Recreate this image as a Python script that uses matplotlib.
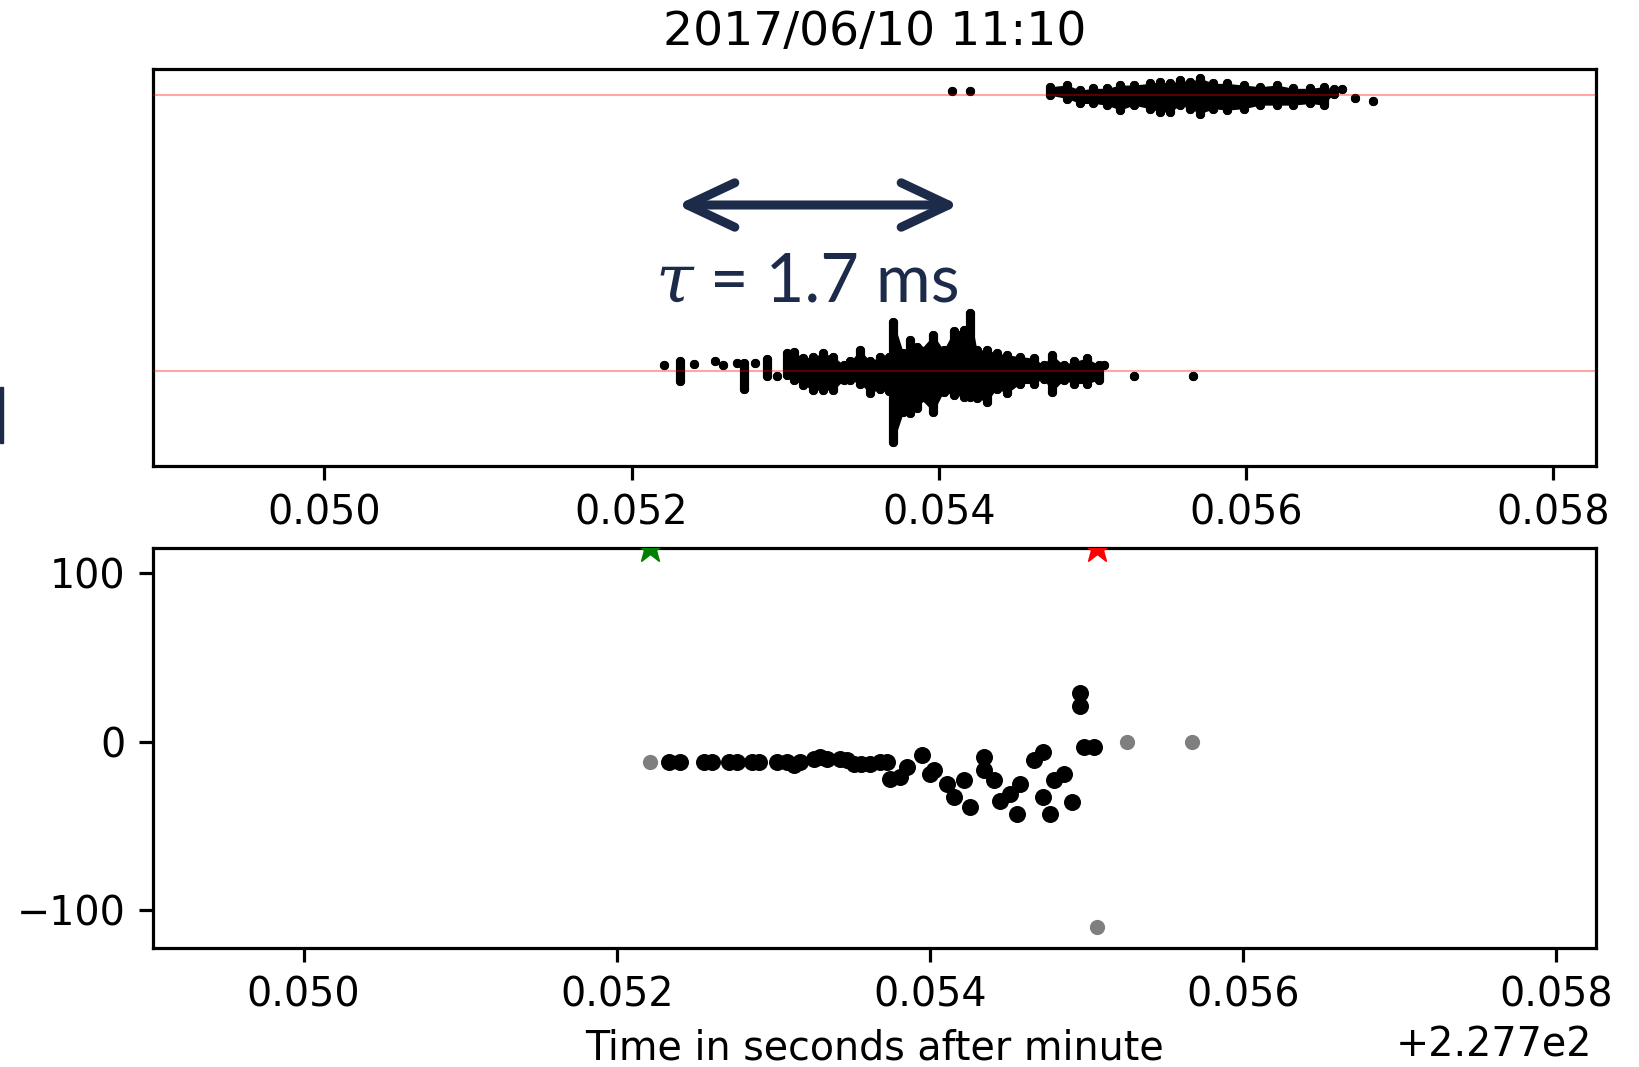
import numpy as np
import matplotlib
matplotlib.use("Agg")
import matplotlib.pyplot as plt
from matplotlib.patches import FancyArrowPatch, Rectangle

# === Data (x = seconds after minute, minus offset 227.7 s) ===
title_text = "2017/06/10 11:10"
offset_text = "+2.277e2"
xtick_vals = [0.050, 0.052, 0.054, 0.056, 0.058]
ytick_vals = [-100, 0, 100]

# top panel, lower channel: column x, lowest dot, highest dot
ch0_x = [0.052208, 0.052316, 0.052403, 0.052544, 0.052594, 0.052686, 0.052729,
         0.052805, 0.052881, 0.052946,
         0.053011, 0.053054, 0.053119, 0.053184, 0.053249, 0.053314, 0.053380,
         0.053423, 0.053488, 0.053553, 0.053618, 0.053673, 0.053705, 0.053770,
         0.053814, 0.053857, 0.053879, 0.053965, 0.054031, 0.054096, 0.054161,
         0.054204, 0.054248, 0.054313, 0.054378, 0.054443, 0.054530, 0.054617,
         0.054682, 0.054736, 0.054812, 0.054877, 0.054964, 0.055040,
         0.055077, 0.055268, 0.055658]
ch0_lo = [0.021, -0.036, 0.024, 0.036, 0.021, 0.030, -0.066, 0.028, -0.018, -0.020,
          -0.016, -0.034, -0.052, -0.070, -0.070, -0.070, -0.034, -0.034, -0.046,
          -0.082, -0.064, -0.074, -0.257, -0.149, -0.154, -0.136, -0.100, -0.149,
          -0.076, -0.088, -0.094, -0.094, -0.100, -0.112, -0.064, -0.082, -0.046,
          -0.046, -0.028, -0.076, -0.034, -0.046, -0.046, -0.034,
          0.022, -0.020, -0.020]
ch0_hi = [0.021, 0.036, 0.024, 0.036, 0.021, 0.030, 0.030, 0.028, 0.042, -0.020,
          0.064, 0.070, 0.046, 0.052, 0.064, 0.052, 0.022, 0.034, 0.076,
          0.034, 0.052, 0.052, 0.179, 0.064, 0.112, 0.088, 0.076, 0.130,
          0.076, 0.143, 0.149, 0.209, 0.076, 0.076, 0.064, 0.058, 0.052,
          0.046, 0.022, 0.058, 0.022, 0.034, 0.046, 0.022,
          0.022, -0.020, -0.020]

# top panel, upper channel
ch1_x = [0.054085, 0.054204,
         0.054725, 0.054834, 0.054921, 0.055007, 0.055094, 0.055181, 0.055268,
         0.055376, 0.055441, 0.055506, 0.055572, 0.055637, 0.055702, 0.055788,
         0.055876, 0.055984, 0.056092, 0.056201, 0.056309, 0.056418, 0.056505,
         0.056570,
         0.056624, 0.056711, 0.056830]
ch1_lo = [1.016, 1.016,
          1.000, 0.988, 0.970, 0.970, 0.964, 0.946, 0.964, 0.951, 0.939, 0.939,
          0.964, 0.951, 0.933, 0.951, 0.946, 0.951, 0.964, 0.964, 0.964, 0.970,
          0.964, 1.006,
          1.022, 0.991, 0.979]
ch1_hi = [1.016, 1.016,
          1.031, 1.037, 1.019, 1.025, 1.025, 1.037, 1.037, 1.043, 1.049, 1.043,
          1.055, 1.049, 1.062, 1.043, 1.043, 1.037, 1.031, 1.037, 1.025, 1.025,
          1.031, 1.023,
          1.022, 0.991, 0.979]
ch0_dense = (0.05300, 0.05505)
ch1_dense = (0.05470, 0.05660)

# bottom panel
pts_x = [0.052331, 0.052405, 0.052554, 0.052608, 0.052714, 0.052768, 0.052863,
         0.052906, 0.053023, 0.053087, 0.053129, 0.053170, 0.053257, 0.053300,
         0.053342, 0.053427, 0.053470, 0.053512, 0.053560, 0.053619, 0.053680,
         0.053725, 0.053746, 0.053810, 0.053853, 0.053949, 0.054002, 0.054023,
         0.054109, 0.054151, 0.054257, 0.054215, 0.054342, 0.054342, 0.054406,
         0.054449, 0.054513, 0.054556, 0.054577, 0.054662, 0.054725, 0.054725,
         0.054768, 0.054789, 0.054853, 0.054907, 0.054960, 0.054960, 0.054981,
         0.055045]
pts_y = [-12, -12, -12, -12, -12, -12, -12,
         -12, -12, -12, -14, -12, -10, -9,
         -10, -10, -11, -13, -13, -13, -12,
         -12, -22, -21, -15, -8, -19, -17,
         -25, -33, -39, -23, -9, -17, -23,
         -35, -31, -43, -25, -11, -6, -33,
         -43, -23, -19, -36, 29, 21, -3,
         -3]
faint_x = [0.052214, 0.055258, 0.055673, 0.055070]
faint_y = [-12, 0, 0, -110]
start_x, end_x = 0.05221, 0.05507

navy = "#1d2b4a"

plt.rcParams.update({
    "font.size": 28.5,
    "axes.linewidth": 2.3,
    "xtick.major.size": 10, "xtick.major.width": 2.3, "xtick.major.pad": 10,
    "ytick.major.size": 10, "ytick.major.width": 2.3, "ytick.major.pad": 10,
})

fig = plt.figure(figsize=(16.4, 10.67), dpi=100)
ax1 = fig.add_axes([0.0933, 0.5633, 0.8799, 0.3720])
ax2 = fig.add_axes([0.0933, 0.1115, 0.8799, 0.3749])

# === top panel ===
dot = 6.6
for xs, lo, hi, dense in [(ch0_x, ch0_lo, ch0_hi, ch0_dense),
                          (ch1_x, ch1_lo, ch1_hi, ch1_dense)]:
    xs, lo, hi = np.array(xs), np.array(lo), np.array(hi)
    mask = (xs >= dense[0]) & (xs <= dense[1])
    ax1.fill_between(xs, lo, hi, where=mask, color="k", lw=0, zorder=2)
    ax1.vlines(xs, lo, hi, colors="k", lw=dot, capstyle="round", zorder=2)
    ax1.scatter(xs, lo, s=dot ** 2, color="k", lw=0, zorder=2)
    ax1.scatter(xs, hi, s=dot ** 2, color="k", lw=0, zorder=2)

ax1.axhline(0, color="red", alpha=0.35, lw=1.5, zorder=3)
ax1.axhline(1, color="red", alpha=0.35, lw=1.5, zorder=3)
ax1.set_xlim(0.048884, 0.058279)
ax1.set_ylim(-0.345, 1.095)
ax1.set_yticks([])
ax1.set_xticks(xtick_vals)
ax1.set_xticklabels([f"{v:.3f}" for v in xtick_vals])
ax1.set_title(title_text, fontsize=34, pad=17)

# === bottom panel ===
ax2.scatter(pts_x, pts_y, s=150, color="k", lw=0, zorder=2)
ax2.scatter(faint_x, faint_y, s=120, color="k", alpha=0.5, lw=0, zorder=2)
ax2.plot([start_x], [115], marker="*", color="green", ms=23, zorder=3)
ax2.plot([end_x], [115], marker="*", color="red", ms=23, zorder=3)
ax2.set_xlim(0.049038, 0.058254)
ax2.set_ylim(-122.4, 114.9)
ax2.set_xticks(xtick_vals)
ax2.set_xticklabels([f"{v:.3f}" for v in xtick_vals])
ax2.set_yticks(ytick_vals)
ax2.set_yticklabels(["\u2212100", "0", "100"])
ax2.set_xlabel("Time in seconds after minute", labelpad=9)
fig.text(0.9707, 0.0197, offset_text, ha="right", va="center", fontsize=28.5)

# === annotation from slide ===
arrow = FancyArrowPatch((677 / 1640, 1 - 205 / 1067), (959 / 1640, 1 - 205 / 1067),
                        transform=fig.transFigure, arrowstyle="<->,head_length=3.4,head_width=1.6",
                        mutation_scale=10, color=navy, lw=6.5, capstyle="round",
                        joinstyle="round", shrinkA=0, shrinkB=0)
fig.add_artist(arrow)
fig.text(655 / 1640, 1 - 302 / 1067, "\u03c4", fontsize=49, style="italic",
         family=["DejaVu Serif"], color=navy, va="baseline")
fig.text(710 / 1640, 1 - 302 / 1067, "= 1.7 ms", fontsize=48, family=["Lato", "DejaVu Sans"],
         color=navy, va="baseline")
fig.add_artist(Rectangle((0, 1 - 443 / 1067), 3 / 1640, 56 / 1067,
                         transform=fig.transFigure, color=navy))

fig.savefig("out.png", dpi=100)
